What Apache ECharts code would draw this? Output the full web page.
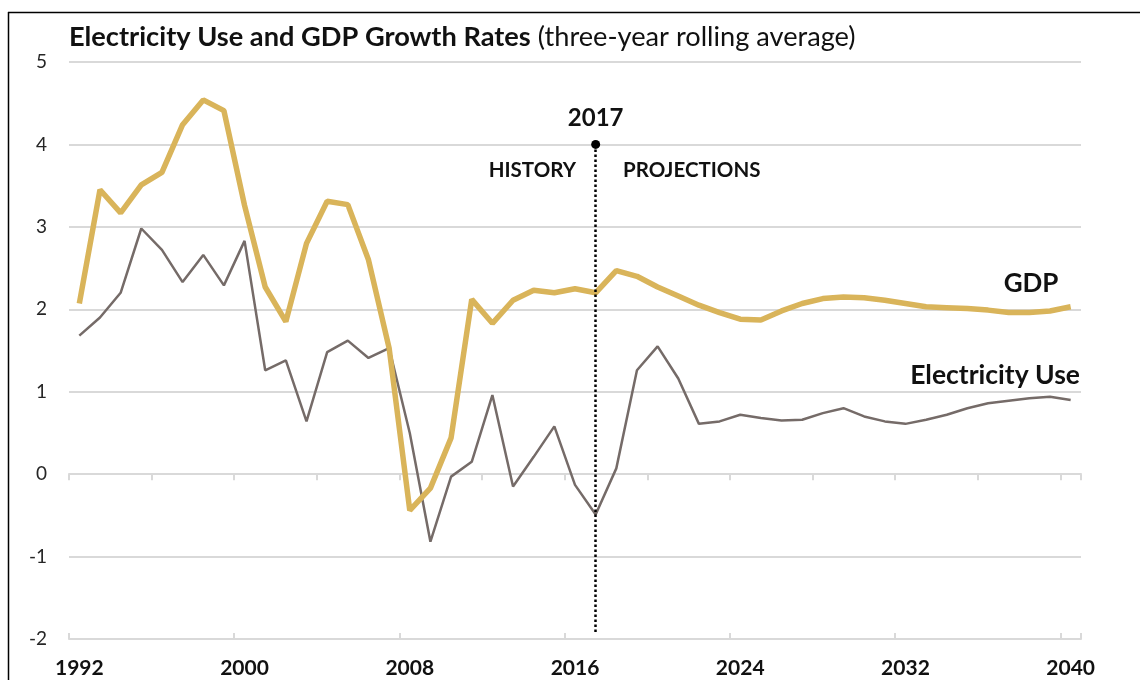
<!DOCTYPE html>
<html><head><meta charset="utf-8">
<script src="https://cdn.jsdelivr.net/npm/echarts@6/dist/echarts.min.js"></script>
<style>html,body{margin:0;padding:0;background:#fff}#c{width:1140px;height:680px}</style>
</head><body><div id="c"></div>
<script>
const years = ['1992','1993','1994','1995','1996','1997','1998','1999','2000','2001','2002','2003','2004','2005','2006','2007','2008','2009','2010','2011','2012','2013','2014','2015','2016','2017','2018','2019','2020','2021','2022','2023','2024','2025','2026','2027','2028','2029','2030','2031','2032','2033','2034','2035','2036','2037','2038','2039','2040'];
const gdp = [2.07,3.45,3.17,3.51,3.66,4.24,4.54,4.41,3.26,2.27,1.85,2.80,3.31,3.27,2.60,1.53,-0.44,-0.17,0.44,2.12,1.83,2.11,2.23,2.20,2.25,2.20,2.47,2.40,2.27,2.16,2.05,1.96,1.88,1.87,1.98,2.07,2.13,2.15,2.14,2.11,2.07,2.03,2.02,2.01,1.99,1.96,1.96,1.98,2.03];
const electricity = [1.68,1.90,2.20,2.98,2.72,2.33,2.66,2.29,2.83,1.26,1.38,0.64,1.48,1.62,1.41,1.53,0.50,-0.82,-0.03,0.15,0.96,-0.15,0.21,0.58,-0.13,-0.49,0.07,1.26,1.55,1.16,0.61,0.64,0.72,0.68,0.65,0.66,0.74,0.80,0.70,0.64,0.61,0.66,0.72,0.80,0.86,0.89,0.92,0.94,0.90];
const yTicks = {min: -2, max: 5, interval: 1};
const markYear = '2017';
const markTop = 4;
const markBottom = -1.92;

const FONT = 'Lato';
const GRID = '#d9d9d9';
const chart = echarts.init(document.getElementById('c'), null, {renderer: 'canvas'});
const zeroAxisBase = {
  type: 'category', data: years, boundaryGap: true,
  axisLine: {show: true, onZero: true, lineStyle: {color: GRID, width: 2}},
  axisLabel: {show: false}, splitLine: {show: false}
};
chart.setOption({
  animation: false,
  grid: {left: 69, right: 59, top: 62, bottom: 41, containLabel: false},
  xAxis: [
    {type: 'category', data: years, boundaryGap: true, position: 'bottom',
     axisLine: {show: false, onZero: false}, axisTick: {show: false},
     axisLabel: {interval: 7, fontFamily: FONT, fontWeight: 'bold', fontSize: 21, color: '#111', margin: 19},
     splitLine: {show: false}},
    Object.assign({}, zeroAxisBase, {position: 'bottom',
     axisTick: {show: true, interval: 3, length: 6, inside: false, lineStyle: {color: GRID, width: 2}}}),
    Object.assign({}, zeroAxisBase, {position: 'bottom',
     axisTick: {show: true, interval: 7, length: 6, inside: true, lineStyle: {color: GRID, width: 2}}})
  ],
  yAxis: {
    type: 'value', min: yTicks.min, max: yTicks.max, interval: yTicks.interval,
    axisLine: {show: false}, axisTick: {show: false},
    axisLabel: {fontFamily: FONT, fontSize: 19, color: '#262626', margin: 22},
    splitLine: {lineStyle: {color: GRID, width: 2}}
  },
  series: [
    {name: 'Electricity Use', type: 'line', data: electricity, showSymbol: false, symbol: 'none',
     lineStyle: {color: '#756b68', width: 2.5}, z: 3,
     markLine: {
       silent: true, animation: false,
       lineStyle: {color: '#000', width: 2.5, type: [2.5, 2.5]},
       label: {show: true, position: 'start', formatter: markYear, fontFamily: FONT, fontWeight: 'bold', fontSize: 24, color: '#111', distance: 14},
       data: [[{coord: [markYear, markTop], symbol: 'circle', symbolSize: 9},
               {coord: [markYear, markBottom], symbol: 'none'}]]
     }},
    {name: 'GDP', type: 'line', data: gdp, showSymbol: false, symbol: 'none',
     lineStyle: {color: '#d9b45a', width: 5.5}, z: 4}
  ],
  graphic: [
    {type: 'line', shape: {x1: 8, y1: 12.5, x2: 1140, y2: 12.5}, style: {stroke: '#000', lineWidth: 1.5}},
    {type: 'line', shape: {x1: 8.5, y1: 12, x2: 8.5, y2: 680}, style: {stroke: '#000', lineWidth: 1.5}},
    {type: 'text', left: 69, top: 24, style: {
      text: '{b|Electricity Use and GDP Growth Rates}{n| (three-year rolling average)}',
      rich: {b: {fontFamily: FONT, fontWeight: 'bold', fontSize: 27.2, fill: '#111'},
             n: {fontFamily: FONT, fontWeight: 'normal', fontSize: 27.2, fill: '#111'}}}},
    {type: 'text', x: 576, y: 170, style: {text: 'HISTORY', fontFamily: FONT, fontWeight: 'bold', fontSize: 20.5, fill: '#111', textAlign: 'right', textVerticalAlign: 'middle'}},
    {type: 'text', x: 623, y: 170, style: {text: 'PROJECTIONS', fontFamily: FONT, fontWeight: 'bold', fontSize: 20.5, fill: '#111', textAlign: 'left', textVerticalAlign: 'middle'}},
    {type: 'text', x: 1031, y: 284, style: {text: 'GDP', fontFamily: FONT, fontWeight: 'bold', fontSize: 26, fill: '#111', textAlign: 'center', textVerticalAlign: 'middle'}},
    {type: 'text', x: 1080, y: 375, style: {text: 'Electricity Use', fontFamily: FONT, fontWeight: 'bold', fontSize: 26.5, fill: '#111', textAlign: 'right', textVerticalAlign: 'middle'}}
  ]
});
</script></body></html>
